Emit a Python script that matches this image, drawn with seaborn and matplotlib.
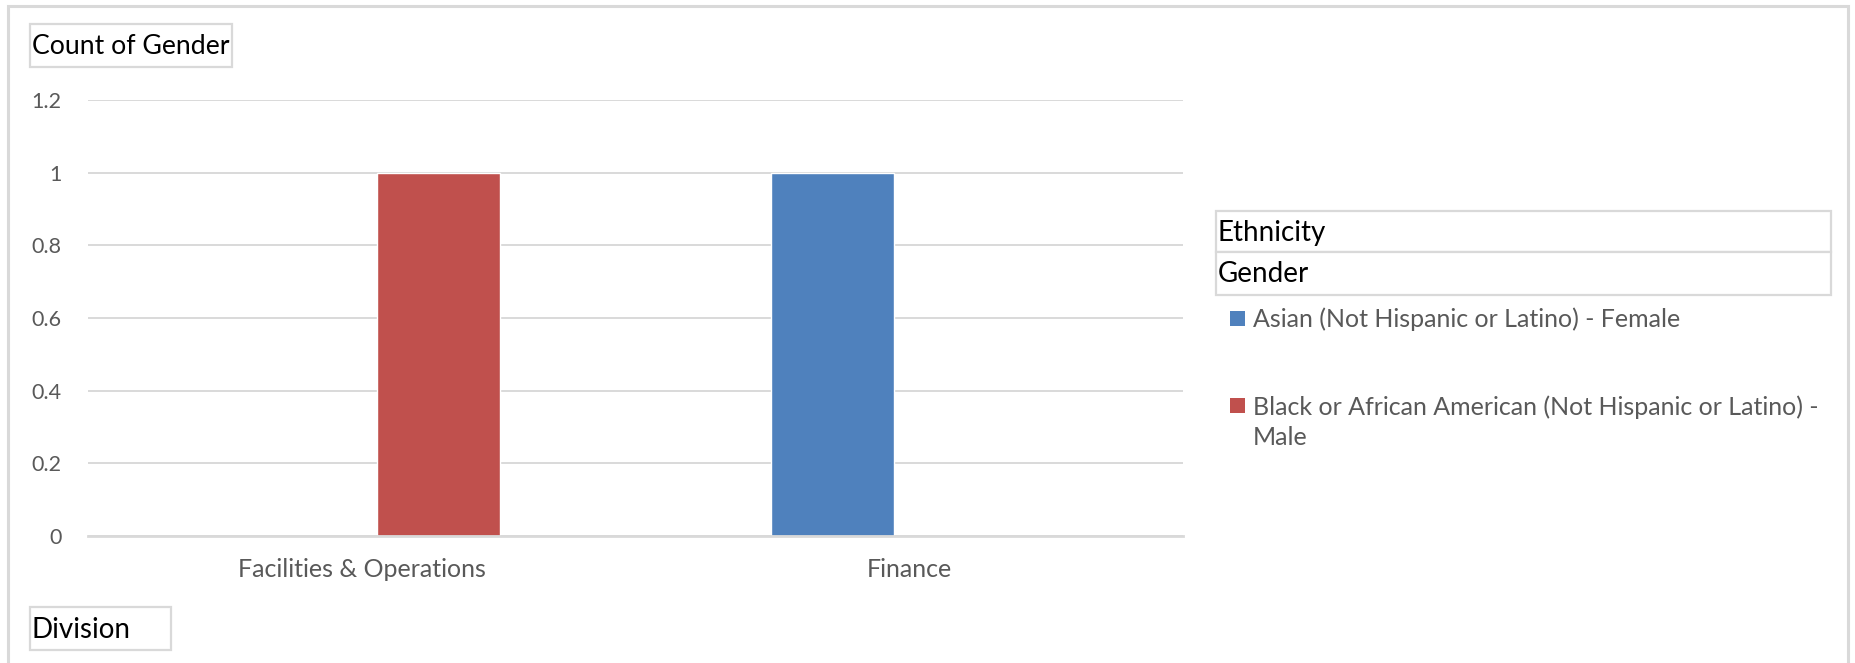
import matplotlib
matplotlib.use("Agg")
import matplotlib.pyplot as plt
from matplotlib.patches import Rectangle
import pandas as pd
import seaborn as sns

# Pivot data: count of employees by division, split by ethnicity/gender
divisions = ["Facilities & Operations", "Finance"]
series = [
    "Asian (Not Hispanic or Latino) - Female",
    "Black or African American (Not Hispanic or Latino) - Male",
]
series_colors = ["#4F81BD", "#C0504D"]
row_division = ["Facilities & Operations", "Finance"]
row_series = [series[1], series[0]]
row_count = [1, 1]
y_ticks = [0, 0.2, 0.4, 0.6, 0.8, 1.0, 1.2]

df = pd.DataFrame({"Division": row_division, "Series": row_series, "Count": row_count})

sns.set_theme(style="white")
plt.rcParams["font.family"] = ["Lato", "DejaVu Sans"]

W, H = 1855, 663
fig = plt.figure(figsize=(W / 100, H / 100), dpi=100)
fig.patch.set_facecolor("white")

def fx(px):
    return px / W

def fy(py):
    return 1 - py / H

grid_c = "#d9d9d9"
text_c = "#595959"

# outer chart border
fig.patches.append(Rectangle((fx(8), fy(700)), fx(1848) - fx(8), fy(6) - fy(700),
                             transform=fig.transFigure, fill=False,
                             edgecolor=grid_c, lw=2.2, zorder=0))

ax = fig.add_axes([fx(88), fy(536), fx(1183) - fx(88), fy(100) - fy(536)])
sns.barplot(data=df, x="Division", y="Count", hue="Series", order=divisions,
            hue_order=series, palette=series_colors, saturation=1,
            width=0.5625, gap=0.2, dodge=True, legend=False, ax=ax)

ax.set_ylim(0, 1.2)
ax.set_xlim(-0.5, 1.5)
ax.set_yticks(y_ticks)
ax.set_yticklabels([f"{v:g}" for v in y_ticks])
ax.set_xlabel("")
ax.set_ylabel("")
ax.yaxis.grid(True, color=grid_c, lw=1.4)
ax.set_axisbelow(True)
for s in ["top", "right", "left"]:
    ax.spines[s].set_visible(False)
ax.spines["bottom"].set_color(grid_c)
ax.spines["bottom"].set_linewidth(2)
ax.tick_params(axis="both", length=0, labelcolor=text_c)
ax.tick_params(axis="y", pad=19, labelsize=15.5)
ax.tick_params(axis="x", pad=16, labelsize=18)

def boxed_label(x0, y0, x1, y1, text, size):
    fig.patches.append(Rectangle((fx(x0), fy(y1)), fx(x1) - fx(x0), fy(y0) - fy(y1),
                                 transform=fig.transFigure, facecolor="white",
                                 edgecolor=grid_c, lw=1.6))
    fig.text(fx(x0 + 2), fy((y0 + y1) / 2 + 1), text, fontsize=size, color="black",
             ha="left", va="center")

# field buttons
boxed_label(30, 24, 232, 67, "Count of Gender", 19.2)
boxed_label(30, 607, 171, 650, "Division", 20)
boxed_label(1216, 211, 1831, 252, "Ethnicity", 20)
boxed_label(1216, 252, 1831, 295, "Gender", 20)

# legend entries (square marker + label, long label wrapped onto two lines)
legend_rows = [319, 406]
wrapped = [series[0], series[1].replace(" - Male", " -\nMale")]
for yc, lab, col in zip(legend_rows, wrapped, series_colors):
    fig.patches.append(Rectangle((fx(1230), fy(yc + 7)), fx(15), fy(0) - fy(15),
                                 transform=fig.transFigure, facecolor=col,
                                 edgecolor="none"))
    n_lines = lab.count("\n") + 1
    yc_block = yc + (n_lines - 1) * 33 / 2
    fig.text(fx(1253), fy(yc_block), lab, fontsize=18, color=text_c, ha="left",
             va="center", linespacing=1.38, transform=fig.transFigure)

fig.savefig("out.png", dpi=100, facecolor="white")
